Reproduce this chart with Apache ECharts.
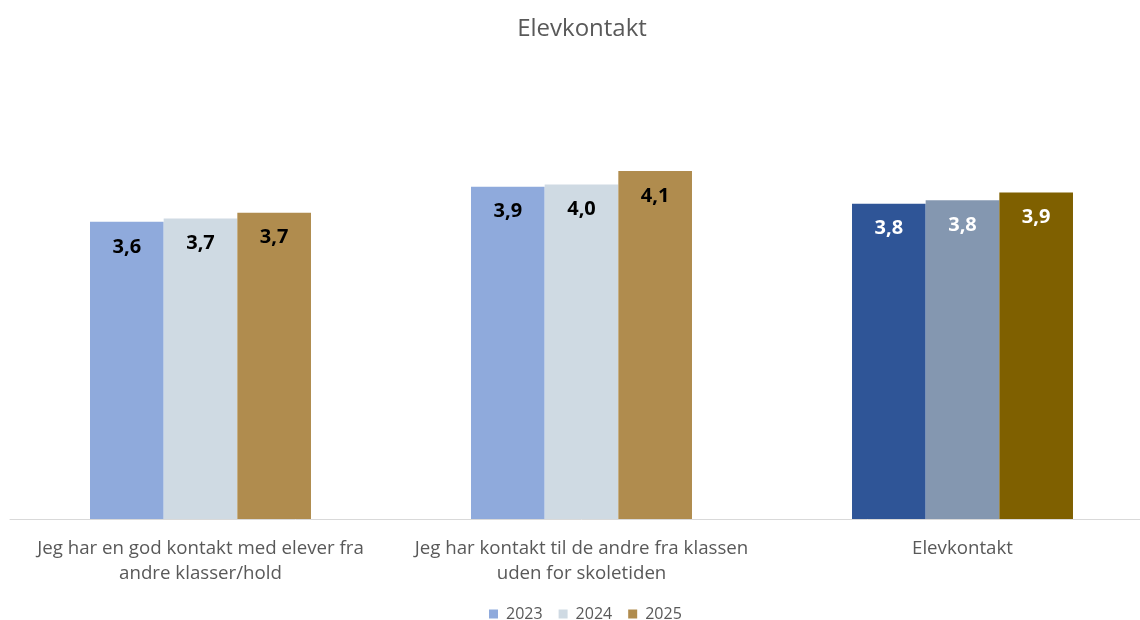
<!DOCTYPE html>
<html><head><meta charset="utf-8">
<script src="https://cdn.jsdelivr.net/npm/echarts@6/dist/echarts.min.js"></script>
<style>html,body{margin:0;padding:0;background:#fff;overflow:hidden}#c{width:1160px;height:620px}</style>
</head><body><div id="c"></div>
<script>
const categories = ["Jeg har en god kontakt med elever fra\nandre klasser/hold", "Jeg har kontakt til de andre fra klassen\nuden for skoletiden", "Elevkontakt"];
const years = ["2023", "2024", "2025"];
const values2023 = [3.63, 3.94, 3.79];
const values2024 = [3.66, 3.96, 3.82];
const values2025 = [3.71, 4.08, 3.89];
const baseColors = ["#8FAADC", "#CFDAE3", "#B08C4E"];
const totalColors = ["#2F5597", "#8497B0", "#7F6000"];

const allValues = [values2023, values2024, values2025];
const fontFam = "'Open Sans', sans-serif";
const series = years.map((y, i) => ({
  name: y,
  type: 'bar',
  barGap: '0%',
  barCategoryGap: '42%',
  itemStyle: { color: baseColors[i] },
  data: allValues[i].map((v, j) => ({
    value: v,
    itemStyle: { color: j === 2 ? totalColors[i] : baseColors[i] },
    label: { color: j === 2 ? '#FFFFFF' : '#000000' }
  })),
  label: {
    show: true, position: 'insideTop', distance: 15,
    fontFamily: fontFam, fontWeight: 'bold', fontSize: 20, lineHeight: 20,
    formatter: p => p.value.toFixed(1).replace('.', ',')
  }
}));

const chart = echarts.init(document.getElementById('c'));
chart.setOption({
  animation: false,
  title: { text: 'Elevkontakt', left: 577, textAlign: 'center', top: 12,
    textStyle: { fontFamily: fontFam, fontSize: 24, fontWeight: 'normal', color: '#595959' } },
  legend: { data: years, left: 484, top: 601, itemWidth: 9, itemHeight: 9, itemGap: 16,
    icon: 'rect', textStyle: { fontFamily: fontFam, fontSize: 16, color: '#595959', padding: [0, 0, 0, 3] } },
  grid: { left: 10, right: 7, top: 67, height: 452, containLabel: false },
  xAxis: { type: 'category', data: categories,
    axisLine: { lineStyle: { color: '#D9D9D9', width: 1 } }, axisTick: { show: false },
    axisLabel: { interval: 0, fontFamily: fontFam, fontSize: 18.7, color: '#595959', lineHeight: 25, margin: 17 } },
  yAxis: { type: 'value', min: 1, max: 5, show: false, splitLine: { show: false } },
  series: series
});
</script></body></html>
